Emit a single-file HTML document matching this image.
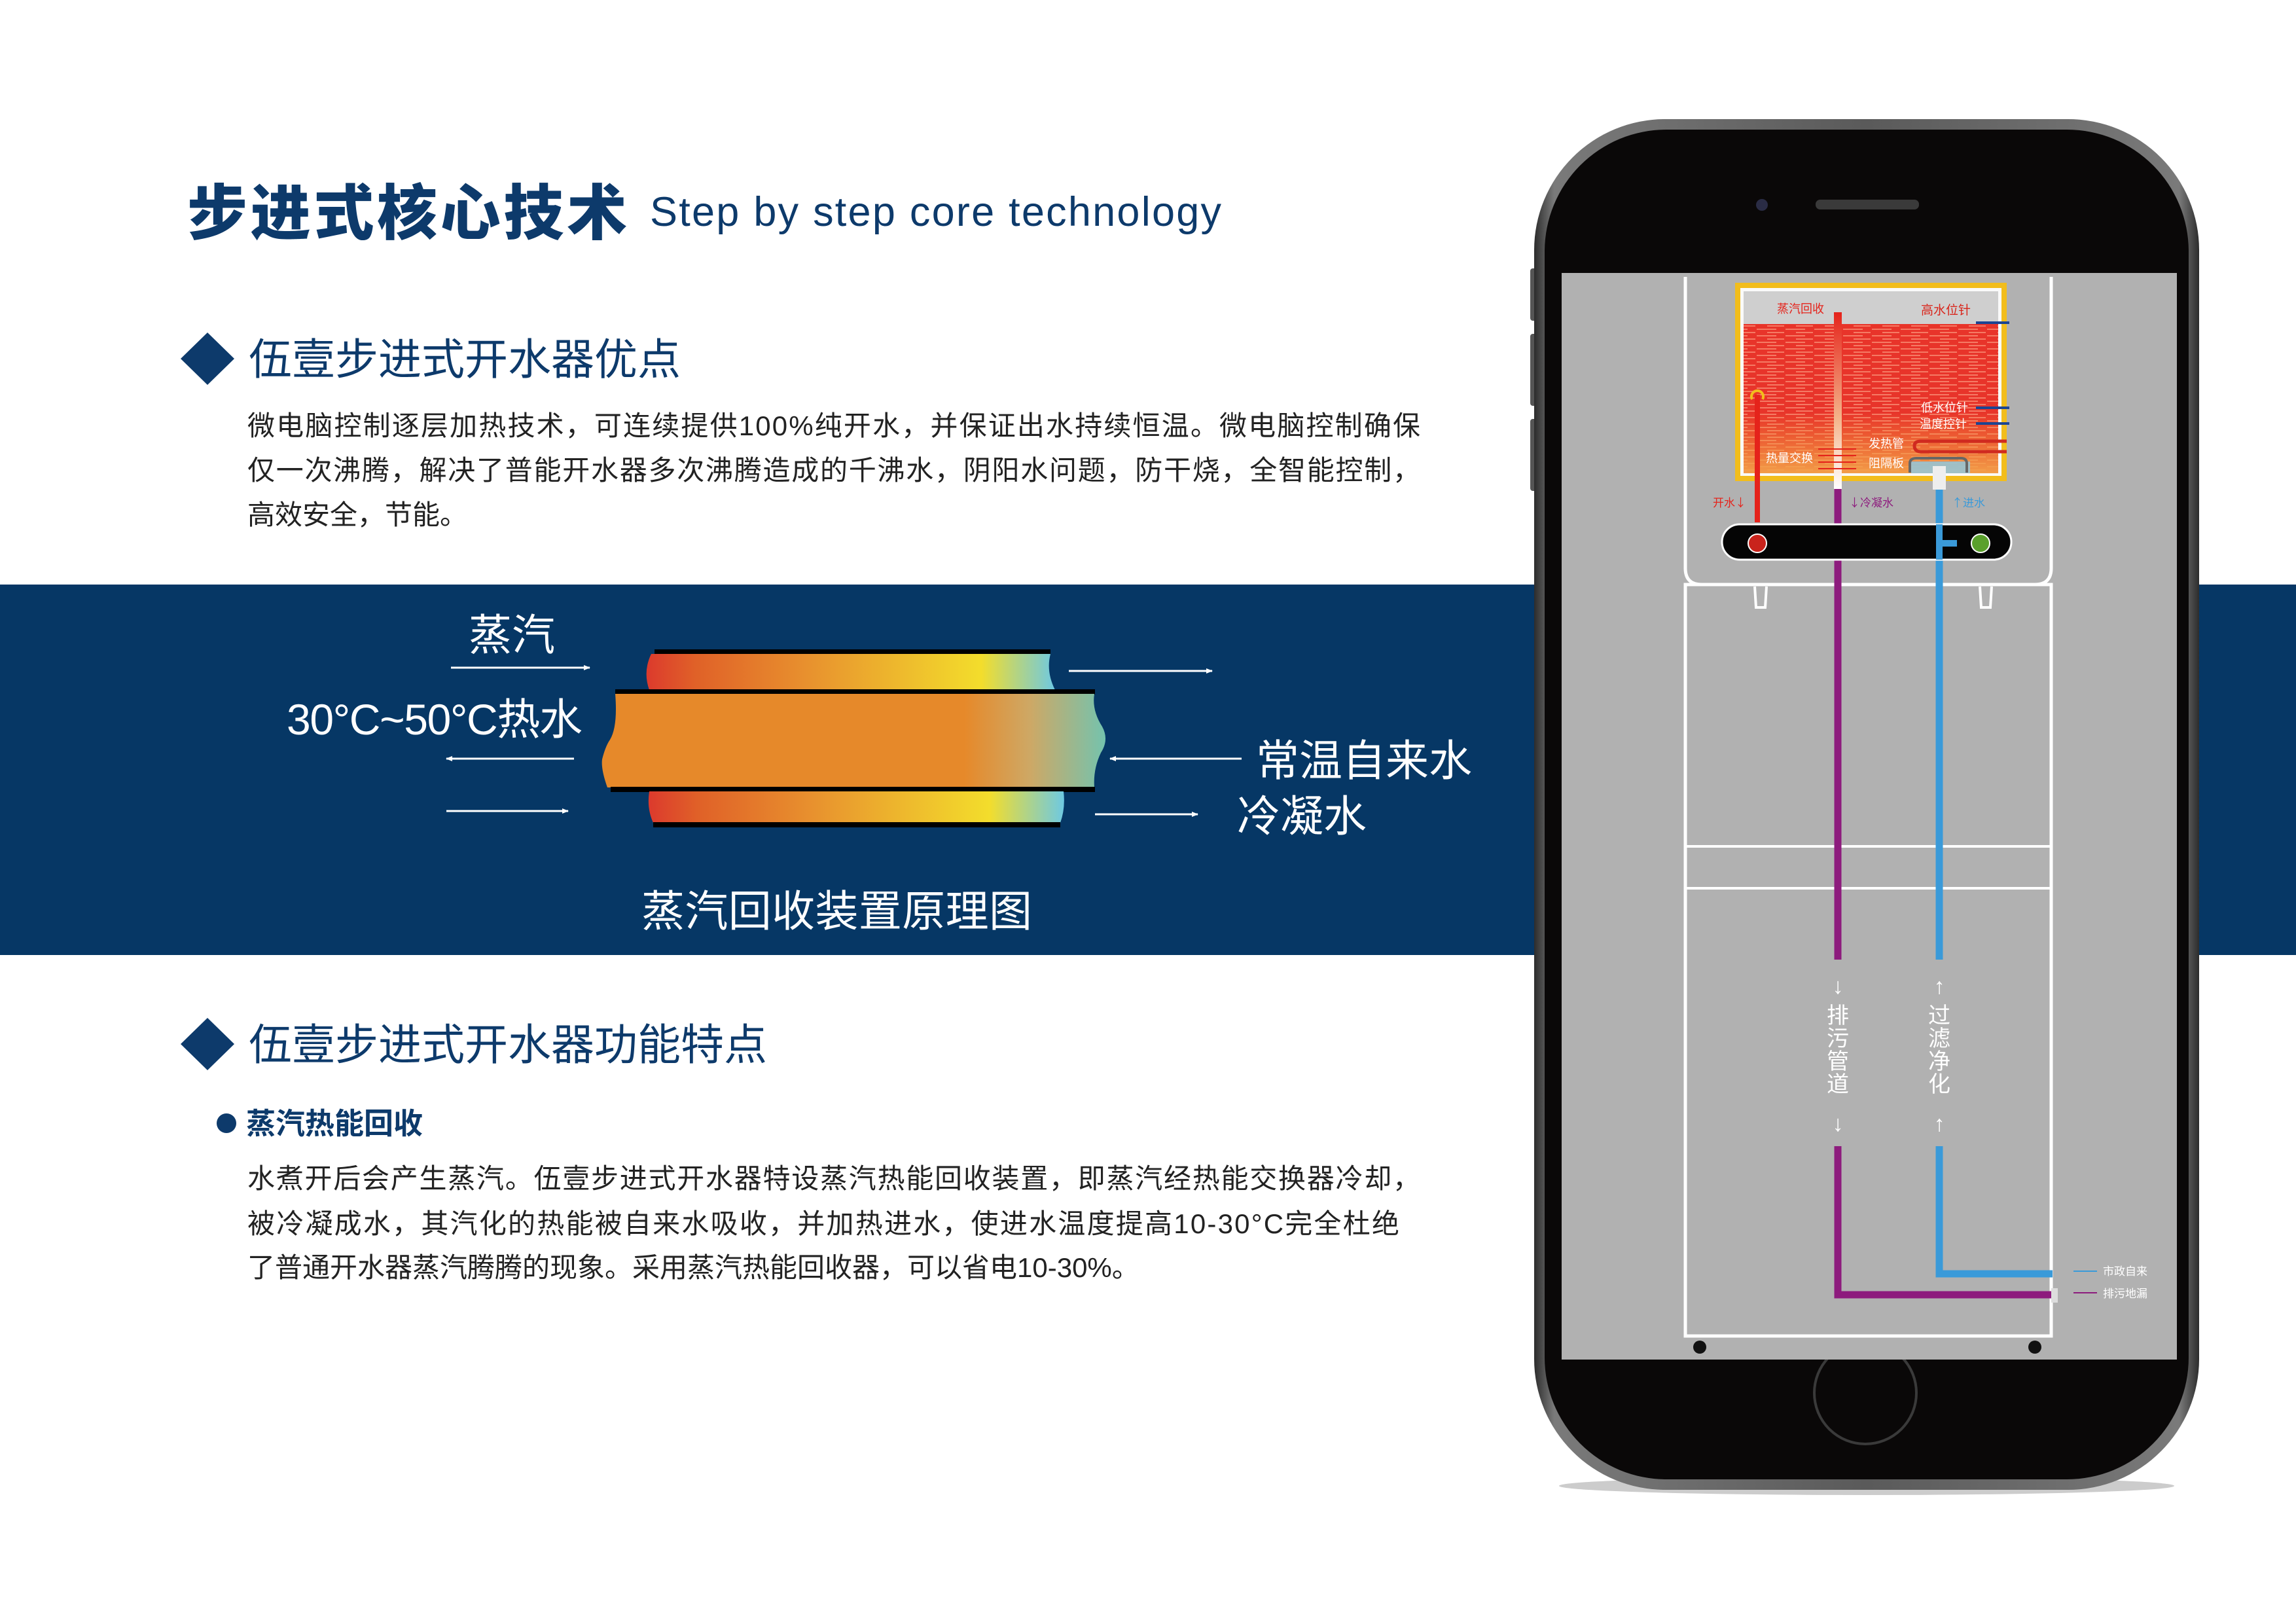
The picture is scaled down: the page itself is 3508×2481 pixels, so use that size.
<!DOCTYPE html>
<html><head><meta charset="utf-8"><style>
html,body{margin:0;padding:0;background:#fff;}
body{width:3508px;height:2481px;overflow:hidden;position:relative;}
svg{position:absolute;left:0;top:0;}
text{font-family:"Liberation Sans","Noto Sans CJK SC",sans-serif;}
</style></head><body>
<svg width="3508" height="2481" viewBox="0 0 3508 2481" xmlns="http://www.w3.org/2000/svg">
<defs>
<linearGradient id="band" x1="0" x2="1" y1="0" y2="0">
<stop offset="0" stop-color="#dc3a2d"/><stop offset="0.12" stop-color="#e06128"/><stop offset="0.4" stop-color="#e8922e"/><stop offset="0.82" stop-color="#f3dd2c"/><stop offset="1" stop-color="#6ec9e2"/>
</linearGradient>
<linearGradient id="mid" x1="0" x2="1" y1="0" y2="0">
<stop offset="0" stop-color="#e6892a"/><stop offset="0.72" stop-color="#e6892a"/><stop offset="0.85" stop-color="#cea865"/><stop offset="1" stop-color="#74c3ae"/>
</linearGradient>
<linearGradient id="frame" x1="0" x2="1" y1="0" y2="0">
<stop offset="0" stop-color="#2c2c2c"/><stop offset="0.03" stop-color="#7a7a7a"/><stop offset="0.5" stop-color="#5a5a5a"/><stop offset="0.97" stop-color="#7a7a7a"/><stop offset="1" stop-color="#2c2c2c"/>
</linearGradient>
<linearGradient id="tankfade" x1="0" x2="0" y1="0" y2="1">
<stop offset="0" stop-color="#f39a3a" stop-opacity="0"/><stop offset="1" stop-color="#f3a24a" stop-opacity="0.95"/>
</linearGradient>
<linearGradient id="steam" x1="0" x2="0" y1="0" y2="1">
<stop offset="0" stop-color="#e5231b"/><stop offset="0.6" stop-color="#f4b48a"/><stop offset="1" stop-color="#ffffff"/>
</linearGradient>
<pattern id="stripes" width="44" height="10" patternUnits="userSpaceOnUse">
<rect width="44" height="10" fill="#e8342a"/><rect x="0" y="2" width="30" height="2" fill="#f57a64"/><rect x="16" y="7" width="26" height="2" fill="#f57a64"/>
</pattern>
<marker id="ah" markerWidth="10" markerHeight="10" refX="9" refY="5" orient="auto" markerUnits="userSpaceOnUse"><path d="M0,1 L10,5 L0,9 z" fill="#fff"/></marker>
</defs>

<text x="286" y="358" font-size="92" fill="#0d3a6b" style="font-family:'Noto Sans CJK SC',sans-serif;font-weight:900" textLength="672">步进式核心技术</text>
<text x="993" y="345" font-size="63" fill="#0d3a6b" textLength="873">Step by step core technology</text>

<path d="M317,508 L358,548 L317,588 L276,548 z" fill="#0d3a6b"/>
<text x="380" y="572" font-size="66" fill="#0d3a6b">伍壹步进式开水器优点</text>
<g font-size="42" fill="#222">
<text x="378" y="665" textLength="1792">微电脑控制逐层加热技术，可连续提供100%纯开水，并保证出水持续恒温。微电脑控制确保</text>
<text x="378" y="733" textLength="1792">仅一次沸腾，解决了普能开水器多次沸腾造成的千沸水，阴阳水问题，防干烧，全智能控制，</text>
<text x="378" y="801">高效安全，节能。</text>
</g>

<rect x="0" y="893" width="3508" height="566" fill="#063765"/>
<text x="716" y="993" font-size="66" fill="#fff">蒸汽</text>
<line x1="689" y1="1020" x2="901" y2="1020" stroke="#fff" stroke-width="3" marker-end="url(#ah)"/>
<text x="438" y="1122" font-size="66" fill="#fff" textLength="452">30°C~50°C热水</text>
<line x1="877" y1="1159" x2="682" y2="1159" stroke="#fff" stroke-width="3" marker-end="url(#ah)"/>
<line x1="682" y1="1239" x2="868" y2="1239" stroke="#fff" stroke-width="3" marker-end="url(#ah)"/>

<rect x="1000" y="992" width="605" height="8" fill="#000"/>
<path d="M995,999 L1605,999 Q1598,1026 1612,1054 L992,1054 Q982,1026 995,999 z" fill="url(#band)"/>
<rect x="940" y="1053" width="733" height="8" fill="#000"/>
<path d="M940,1060 L1672,1060 Q1668,1085 1684,1110 Q1695,1130 1682,1150 Q1670,1175 1672,1203 L928,1203 Q918,1175 920,1160 Q925,1140 932,1130 Q944,1110 940,1060 z" fill="url(#mid)"/>
<rect x="933" y="1202" width="740" height="8" fill="#000"/>
<path d="M992,1209 L1625,1209 Q1628,1235 1620,1257 L998,1257 Q988,1235 992,1209 z" fill="url(#band)"/>
<rect x="998" y="1256" width="622" height="8" fill="#000"/>

<line x1="1633" y1="1025" x2="1852" y2="1025" stroke="#fff" stroke-width="3" marker-end="url(#ah)"/>
<line x1="1897" y1="1159" x2="1696" y2="1159" stroke="#fff" stroke-width="3" marker-end="url(#ah)"/>
<line x1="1673" y1="1244" x2="1830" y2="1244" stroke="#fff" stroke-width="3" marker-end="url(#ah)"/>
<text x="1919" y="1185" font-size="66" fill="#fff">常温自来水</text>
<text x="1890" y="1270" font-size="66" fill="#fff">冷凝水</text>
<text x="980" y="1415" font-size="66" fill="#fff" textLength="597">蒸汽回收装置原理图</text>

<path d="M317,1555 L358,1595 L317,1635 L276,1595 z" fill="#0d3a6b"/>
<text x="380" y="1619" font-size="66" fill="#0d3a6b">伍壹步进式开水器功能特点</text>
<circle cx="346" cy="1716" r="15" fill="#0d3a6b"/>
<text x="376" y="1732" font-size="45" fill="#0d3a6b" font-weight="bold">蒸汽热能回收</text>
<g font-size="42" fill="#222">
<text x="378" y="1815" textLength="1792">水煮开后会产生蒸汽。伍壹步进式开水器特设蒸汽热能回收装置，即蒸汽经热能交换器冷却，</text>
<text x="378" y="1884" textLength="1760">被冷凝成水，其汽化的热能被自来水吸收，并加热进水，使进水温度提高10-30°C完全杜绝</text>
<text x="378" y="1951">了普通开水器蒸汽腾腾的现象。采用蒸汽热能回收器，可以省电10-30%。</text>
</g>

<rect x="2338" y="410" width="12" height="80" rx="4" fill="#555"/>
<rect x="2338" y="510" width="12" height="110" rx="4" fill="#555"/>
<rect x="2338" y="640" width="12" height="110" rx="4" fill="#555"/>
<ellipse cx="2852" cy="2270" rx="470" ry="14" fill="#ccc"/>
<rect x="2344" y="182" width="1016" height="2094" rx="200" fill="url(#frame)"/>
<rect x="2360" y="198" width="984" height="2062" rx="186" fill="#0a0808"/>
<circle cx="2692" cy="313" r="9" fill="#2a2c45"/>
<rect x="2774" y="305" width="158" height="15" rx="7" fill="#3a3a3a"/>
<circle cx="2850" cy="2128" r="78" fill="none" stroke="#3a3a3a" stroke-width="4"/>
<rect x="2386" y="417" width="940" height="1660" fill="#b1b1b1"/>

<path d="M2575,423 L2575,868 Q2575,893 2600,893 L3109,893 Q3134,893 3134,868 L3134,423" fill="none" stroke="#fff" stroke-width="5"/>
<rect x="2575" y="893" width="559" height="1148" fill="none" stroke="#fff" stroke-width="5"/>
<line x1="2575" y1="1293" x2="3134" y2="1293" stroke="#fff" stroke-width="4"/>
<line x1="2575" y1="1357" x2="3134" y2="1357" stroke="#fff" stroke-width="4"/>
<path d="M2681,896 L2683,928 L2697,928 L2699,896" fill="none" stroke="#fff" stroke-width="4"/>
<path d="M3025,896 L3027,928 L3041,928 L3043,896" fill="none" stroke="#fff" stroke-width="4"/>
<circle cx="2597" cy="2058" r="10" fill="#111"/><circle cx="3109" cy="2058" r="10" fill="#111"/>

<rect x="2651" y="432" width="415" height="303" fill="#f2bd1c"/>
<rect x="2659" y="440" width="399" height="287" fill="#fafafa"/>
<rect x="2664" y="445" width="389" height="278" fill="#cfcfcf"/>
<rect x="2664" y="495" width="389" height="228" fill="url(#stripes)"/>
<rect x="2664" y="630" width="389" height="93" fill="url(#tankfade)"/>
<rect x="2920" y="705" width="90" height="18" fill="#8ccbe6" opacity="0.8"/>
<rect x="2802" y="477" width="12" height="270" fill="url(#steam)"/>
<text x="2715" y="478" font-size="18" fill="#e5231b" style="font-family:'Noto Sans CJK SC',sans-serif">蒸汽回收</text>
<text x="2935" y="480" font-size="19" fill="#d9251b" style="font-family:'Noto Sans CJK SC',sans-serif">高水位针</text>
<text x="2935" y="629" font-size="18" fill="#fff" style="font-family:'Noto Sans CJK SC',sans-serif">低水位针</text>
<text x="2933" y="654" font-size="18" fill="#fff" style="font-family:'Noto Sans CJK SC',sans-serif">温度控针</text>
<g stroke="#1c4592" stroke-width="4"><line x1="3019" y1="493" x2="3070" y2="493"/><line x1="3019" y1="623" x2="3070" y2="623"/><line x1="3019" y1="647" x2="3070" y2="647"/></g>
<path d="M3066,674 L2935,674 Q2925,674 2925,681 Q2925,690 2935,690 L3066,690" fill="none" stroke="#d02a20" stroke-width="5"/>
<path d="M2918,722 L2918,708 Q2918,700 2928,700 L2996,700 Q3005,700 3005,708 L3005,722" fill="none" stroke="#666" stroke-width="4"/>
<text x="2855" y="684" font-size="18" fill="#fff" style="font-family:'Noto Sans CJK SC',sans-serif">发热管</text>
<text x="2855" y="714" font-size="18" fill="#fff" style="font-family:'Noto Sans CJK SC',sans-serif">阻隔板</text>
<text x="2698" y="706" font-size="18" fill="#fff" style="font-family:'Noto Sans CJK SC',sans-serif">热量交换</text>
<g stroke="#e5231b" stroke-width="2">
<line x1="2778" y1="686" x2="2836" y2="686"/><line x1="2778" y1="696" x2="2836" y2="696"/><line x1="2778" y1="706" x2="2836" y2="706"/><line x1="2778" y1="716" x2="2836" y2="716"/>
</g>

<rect x="2681" y="603" width="8" height="195" fill="#e5231b"/>
<path d="M2677,610 A9,9 0 1 1 2693,610" fill="none" stroke="#f2bd1c" stroke-width="4"/>
<text x="2617" y="774" font-size="17" fill="#e5231b" style="font-family:'Noto Sans CJK SC',sans-serif">开水↓</text>
<text x="2825" y="774" font-size="17" fill="#8d1b7d" style="font-family:'Noto Sans CJK SC',sans-serif">↓冷凝水</text>
<text x="2982" y="774" font-size="17" fill="#3a9ad9" style="font-family:'Noto Sans CJK SC',sans-serif">↑进水</text>

<g fill="none" stroke-width="11">
<path d="M2808,747 L2808,1466" stroke="#8d1b7d"/>
<path d="M2808,1751 L2808,1978 L3136,1978" stroke="#8d1b7d"/>
<path d="M2963,747 L2963,1466" stroke="#3a9ad9"/>
<path d="M2963,1751 L2963,1946 L3136,1946" stroke="#3a9ad9"/>
</g>
<rect x="2953" y="712" width="20" height="36" fill="#eee"/>

<rect x="2631" y="801" width="442" height="54" rx="27" fill="#050505" stroke="#fff" stroke-width="3"/>
<rect x="2958" y="801" width="10" height="54" fill="#3a9ad9"/>
<rect x="2963" y="825" width="27" height="10" fill="#3a9ad9"/>
<circle cx="2685" cy="830" r="14" fill="#c9231c" stroke="#fff" stroke-width="2"/>
<circle cx="3026" cy="830" r="14" fill="#5aa02c" stroke="#fff" stroke-width="2"/>

<g font-size="34" fill="#fff" text-anchor="middle" style="font-family:'Noto Sans CJK SC',sans-serif">
<text x="2808" y="1518">↓</text>
<text x="2808" y="1563">排</text><text x="2808" y="1598">污</text><text x="2808" y="1633">管</text><text x="2808" y="1668">道</text>
<text x="2808" y="1728">↓</text>
<text x="2963" y="1518">↑</text>
<text x="2963" y="1563">过</text><text x="2963" y="1598">滤</text><text x="2963" y="1633">净</text><text x="2963" y="1668">化</text>
<text x="2963" y="1728">↑</text>
</g>
<rect x="3134" y="1968" width="10" height="22" fill="#ddd"/>
<line x1="3204" y1="1942" x2="3168" y2="1942" stroke="#3a9ad9" stroke-width="2"/>
<line x1="3168" y1="1975" x2="3204" y2="1975" stroke="#8d1b7d" stroke-width="2"/>
<text x="3213" y="1948" font-size="17" fill="#fff" style="font-family:'Noto Sans CJK SC',sans-serif">市政自来</text>
<text x="3213" y="1982" font-size="17" fill="#fff" style="font-family:'Noto Sans CJK SC',sans-serif">排污地漏</text>
</svg>
</body></html>
